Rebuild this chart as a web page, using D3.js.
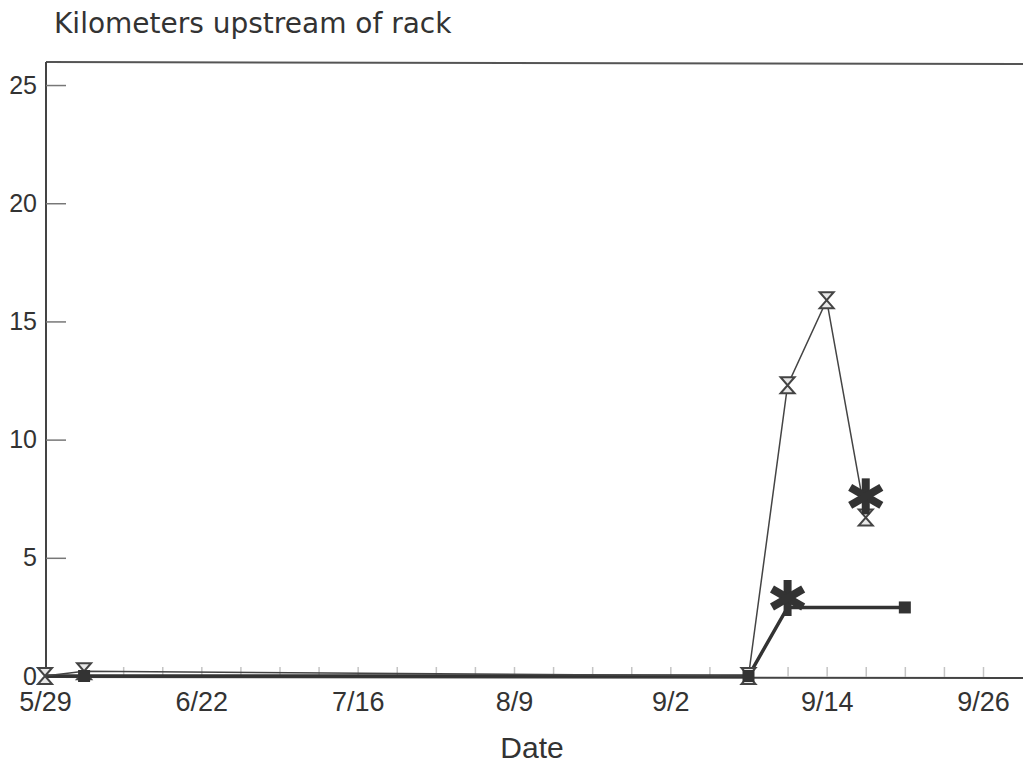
<!DOCTYPE html>
<html lang="en">
<head>
    <meta charset="UTF-8">
    <title>Kilometers upstream of rack</title>
    <script src="https://d3js.org/d3.v7.min.js"></script>
    <style>
        body { margin: 0; background: #fff; }
        text { fill: #333; font-family: "Liberation Sans", Arial, sans-serif; }
        .tick line { stroke: #777; stroke-width: 1.5; }
        .minor line { stroke: #c4c4c4; stroke-width: 1.5; }
    </style>
</head>
<body>
    <svg width="1023" height="767"></svg>

    <script>
        // days counted from 5/29, tick labels every 24 days
        let tickDays = [0, 24, 48, 72, 96, 120, 144];
        let tickLabels = ['5/29', '6/22', '7/16', '8/9', '9/2', '9/14', '9/26'];
        let minorDays = d3.range(6, 150, 6);
        let yTicks = [0, 5, 10, 15, 20, 25];

        // hourglass series (thin line)
        let hourDays = [0, 6, 108, 114, 120, 126];
        let hourKm = [0, 0.2, 0, 12.3, 15.9, 6.7];

        // square series (thick line)
        let sqDays = [0, 6, 108, 114, 132];
        let sqKm = [0, 0, 0, 2.9, 2.9];
        let sqMarkDays = [6, 108, 132];
        let sqMarkKm = [0, 0, 2.9];

        // asterisk points
        let starDays = [114, 126];
        let starKm = [3.3, 7.6];

        let svg = d3.select('svg');

        let x = d3.scaleLinear().domain([0, 144]).range([45, 983]);
        let y = d3.scaleLinear().domain([0, 26]).range([676, 61.4]);

        // frame
        svg.append('line').attr('x1', 46).attr('y1', 62).attr('x2', 1023).attr('y2', 64)
            .style('stroke', '#555').style('stroke-width', 2);
        svg.append('line').attr('x1', 46).attr('y1', 62).attr('x2', 46).attr('y2', 678)
            .style('stroke', '#444').style('stroke-width', 2);
        svg.append('line').attr('x1', 44).attr('y1', 677).attr('x2', 1023).attr('y2', 678)
            .style('stroke', '#444').style('stroke-width', 2);

        // minor ticks on the date axis
        let minor = svg.append('g').attr('class', 'minor')
            .attr('transform', 'translate(0 677)')
            .call(d3.axisBottom(x).tickValues(minorDays).tickSize(-10).tickFormat(''));
        minor.select('.domain').remove();

        let xAxis = svg.append('g')
            .attr('transform', 'translate(0 677)')
            .call(d3.axisBottom(x).tickValues(tickDays).tickSize(0).tickPadding(15)
                .tickFormat((d, i) => tickLabels[i]));
        xAxis.select('.domain').remove();
        xAxis.selectAll('text').style('font-size', '27px').style('font-family', '"Liberation Sans", Arial, sans-serif').style('fill', '#333');

        let yAxis = svg.append('g')
            .attr('transform', 'translate(46 0)')
            .call(d3.axisLeft(y).tickValues(yTicks).tickSize(-20).tickPadding(9));
        yAxis.select('.domain').remove();
        yAxis.selectAll('text').style('font-size', '25px').style('font-family', '"Liberation Sans", Arial, sans-serif').style('fill', '#333');
        yAxis.selectAll('.tick').filter(d => d === 0).select('line').remove();

        // lines
        let line = d3.line().x(d => x(d[0])).y(d => y(d[1]));

        svg.append('path').datum(sqDays.map((d, i) => [d, sqKm[i]]))
            .attr('d', line).style('fill', 'none').style('stroke', '#333').style('stroke-width', 3.5);

        svg.append('path').datum(hourDays.map((d, i) => [d, hourKm[i]]))
            .attr('d', line).style('fill', 'none').style('stroke', '#444').style('stroke-width', 1.5);

        // hourglass markers
        svg.selectAll('.hour').data(hourDays.map((d, i) => [d, hourKm[i]])).enter().append('path')
            .attr('class', 'hour')
            .attr('d', 'M-7,-8 L7,-8 L-7,8 L7,8 Z')
            .attr('transform', d => 'translate(' + x(d[0]) + ' ' + y(d[1]) + ')')
            .style('fill', '#e8e8e8').style('stroke', '#444').style('stroke-width', 2);

        // square markers
        svg.selectAll('.sq').data(sqMarkDays.map((d, i) => [d, sqMarkKm[i]])).enter().append('rect')
            .attr('class', 'sq')
            .attr('x', d => x(d[0]) - 6).attr('y', d => y(d[1]) - 6)
            .attr('width', 12).attr('height', 12)
            .style('fill', '#333');

        // asterisks
        let arm = 18;
        let star = svg.selectAll('.star').data(starDays.map((d, i) => [d, starKm[i]])).enter().append('g')
            .attr('class', 'star')
            .attr('transform', d => 'translate(' + x(d[0]) + ' ' + y(d[1]) + ')');
        [90, 30, 150].forEach(a => {
            let r = a * Math.PI / 180;
            star.append('line')
                .attr('x1', -arm * Math.cos(r)).attr('y1', -arm * Math.sin(r))
                .attr('x2', arm * Math.cos(r)).attr('y2', arm * Math.sin(r))
                .style('stroke', '#333').style('stroke-width', 8);
        });

        // titles
        svg.append('text').attr('x', 54).attr('y', 33)
            .style('font-size', '28px').style('font-family', '"DejaVu Sans", sans-serif')
            .text('Kilometers upstream of rack');

        svg.append('text').attr('x', 532).attr('y', 758).attr('text-anchor', 'middle')
            .style('font-size', '30px')
            .text('Date');
    </script>
</body>
</html>
